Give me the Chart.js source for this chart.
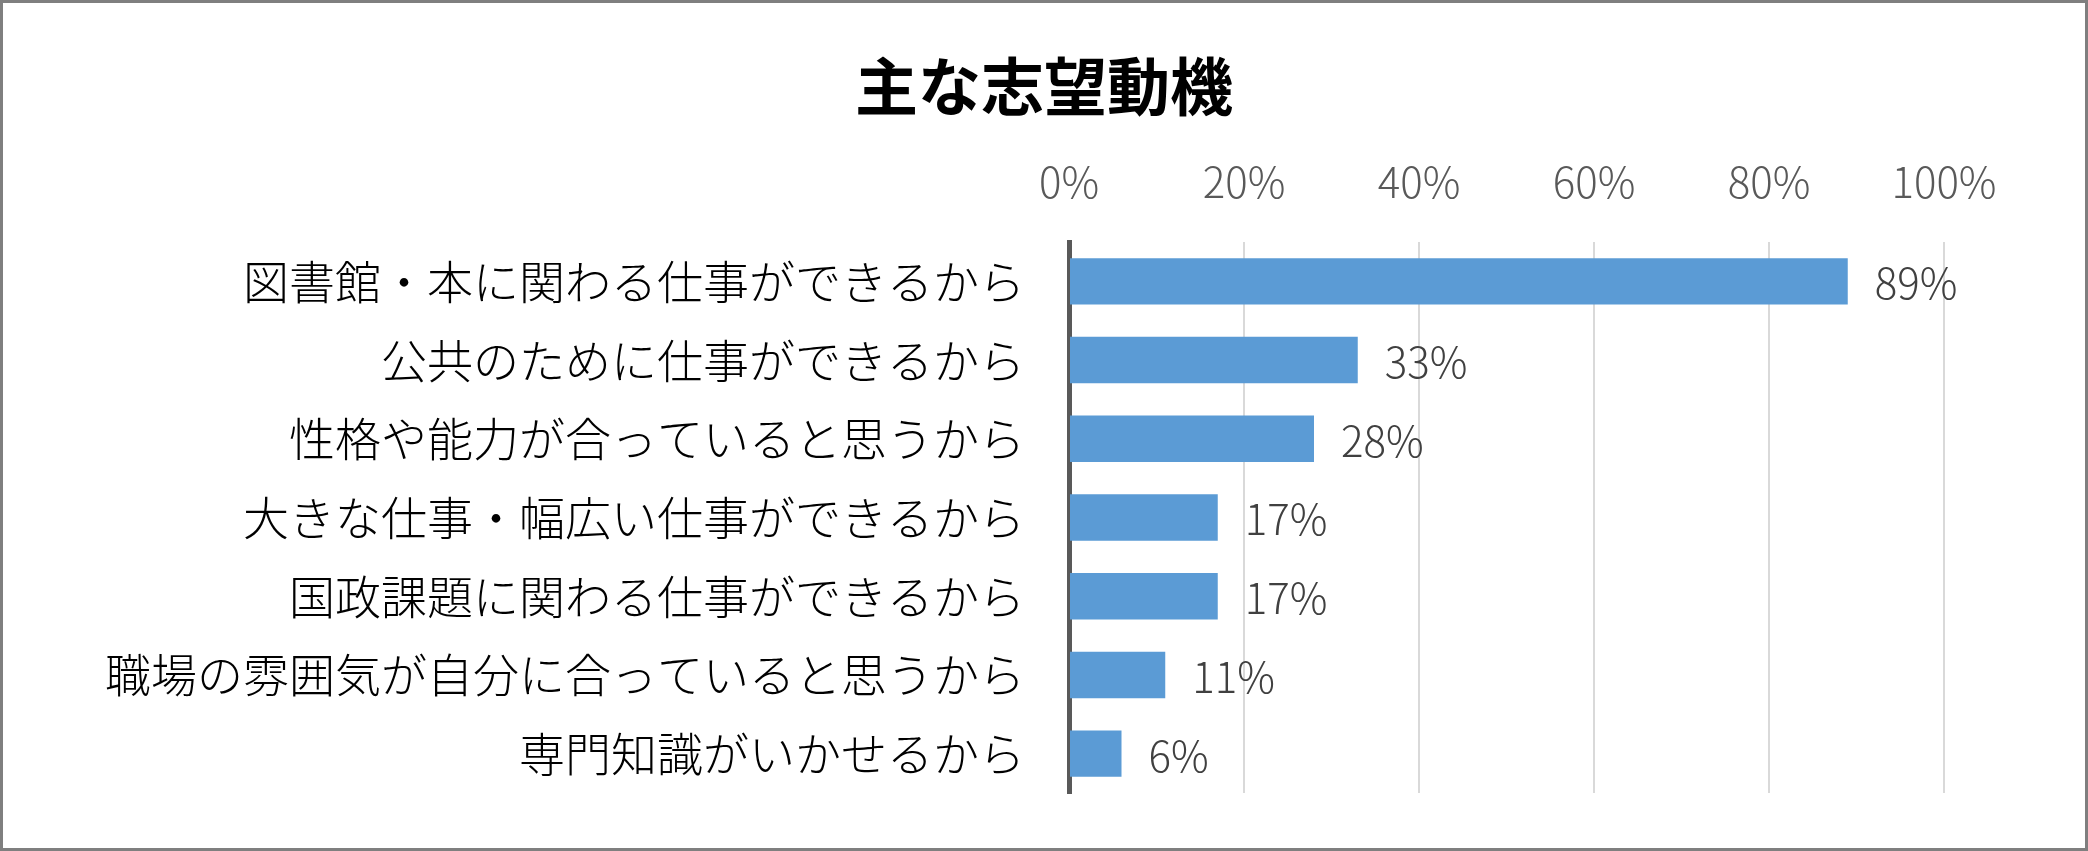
<!DOCTYPE html>
<html lang="ja">
<head>
<meta charset="utf-8">
<title>主な志望動機</title>
<script src="https://cdn.jsdelivr.net/npm/chart.js@4.4.1/dist/chart.umd.min.js"></script>
<style>
    html, body { margin: 0; padding: 0; background: #fff; }
    #wrap { width: 2088px; height: 851px; position: relative; }
</style>
</head>
<body>
<div id="wrap"><canvas id="motiveChart" width="2088" height="851"></canvas></div>
<script>
const categories = [
    '図書館・本に関わる仕事ができるから',
    '公共のために仕事ができるから',
    '性格や能力が合っていると思うから',
    '大きな仕事・幅広い仕事ができるから',
    '国政課題に関わる仕事ができるから',
    '職場の雰囲気が自分に合っていると思うから',
    '専門知識がいかせるから'
];
const shares = [0.89, 0.33, 0.28, 0.17, 0.17, 0.11, 0.06];
const tickValues = [0, 0.2, 0.4, 0.6, 0.8, 1.0];

const jpFont = "'Noto Sans CJK JP', 'Noto Sans', sans-serif";
const pct = v => Math.round(v * 100) + '%';

// white background + outer grey frame
const frame = {
    id: 'frame',
    beforeDraw(chart) {
        const c = chart.ctx;
        c.save();
        c.fillStyle = '#fff';
        c.fillRect(0, 0, chart.width, chart.height);
        c.restore();
    },
    afterDraw(chart) {
        const c = chart.ctx;
        c.save();
        c.strokeStyle = '#7f7f7f';
        c.lineWidth = 3;
        c.strokeRect(1.5, 1.5, chart.width - 3, chart.height - 3);
        c.restore();
    }
};

// value labels to the right of each bar
const barLabels = {
    id: 'barLabels',
    afterDatasetsDraw(chart) {
        const c = chart.ctx;
        const meta = chart.getDatasetMeta(0);
        c.save();
        c.font = `300 42px ${jpFont}`;
        c.fillStyle = '#404040';
        c.textAlign = 'left';
        c.textBaseline = 'middle';
        meta.data.forEach((bar, i) => {
            c.fillText(pct(shares[i]), bar.x + 27, bar.y + 2);
        });
        c.restore();
    }
};

const ctx = document.getElementById('motiveChart').getContext('2d');
new Chart(ctx, {
    type: 'bar',
    data: {
        labels: categories,
        datasets: [{
            data: shares,
            backgroundColor: '#5b9bd5',
            borderWidth: 0,
            categoryPercentage: 1,
            barPercentage: 0.59
        }]
    },
    options: {
        indexAxis: 'y',
        responsive: false,
        animation: false,
        layout: {
            padding: { left: 0, right: 0, top: 0, bottom: 58 }
        },
        plugins: {
            legend: { display: false },
            tooltip: { enabled: false },
            title: {
                display: true,
                text: '主な志望動機',
                color: '#000',
                font: { family: jpFont, size: 63, weight: 'bold', lineHeight: 1.2 },
                padding: { top: 48, bottom: 14 }
            }
        },
        scales: {
            x: {
                position: 'top',
                min: 0,
                max: 1,
                afterBuildTicks(scale) {
                    scale.ticks = tickValues.map(v => ({ value: v }));
                },
                afterFit(scale) {
                    scale.height = 242 - (48 + 14 + 63 * 1.2);
                },
                grid: {
                    color: '#d9d9d9',
                    lineWidth: 2,
                    drawTicks: false
                },
                border: { display: false },
                ticks: {
                    callback: v => pct(v),
                    color: '#595959',
                    padding: 35,
                    font: { family: jpFont, size: 42, weight: '300' }
                }
            },
            y: {
                afterFit(scale) {
                    scale.width = 1069;
                    // don't let label overflow push the plot bottom up
                    scale.paddingTop = 0;
                    scale.paddingBottom = 0;
                },
                grid: { display: false, drawTicks: false },
                border: { display: true, color: '#595959', width: 5 },
                ticks: {
                    color: '#000',
                    padding: 44,
                    font: { family: jpFont, size: 46, weight: '300' }
                }
            },
            // empty right-hand strip so the title stays centred on the whole canvas
            yRight: {
                type: 'category',
                position: 'right',
                afterFit(scale) {
                    scale.width = 144;
                    scale.paddingTop = 0;
                    scale.paddingBottom = 0;
                },
                grid: { display: false, drawTicks: false },
                border: { display: false },
                ticks: { display: false }
            }
        }
    },
    plugins: [frame, barLabels]
});
</script>
</body>
</html>
